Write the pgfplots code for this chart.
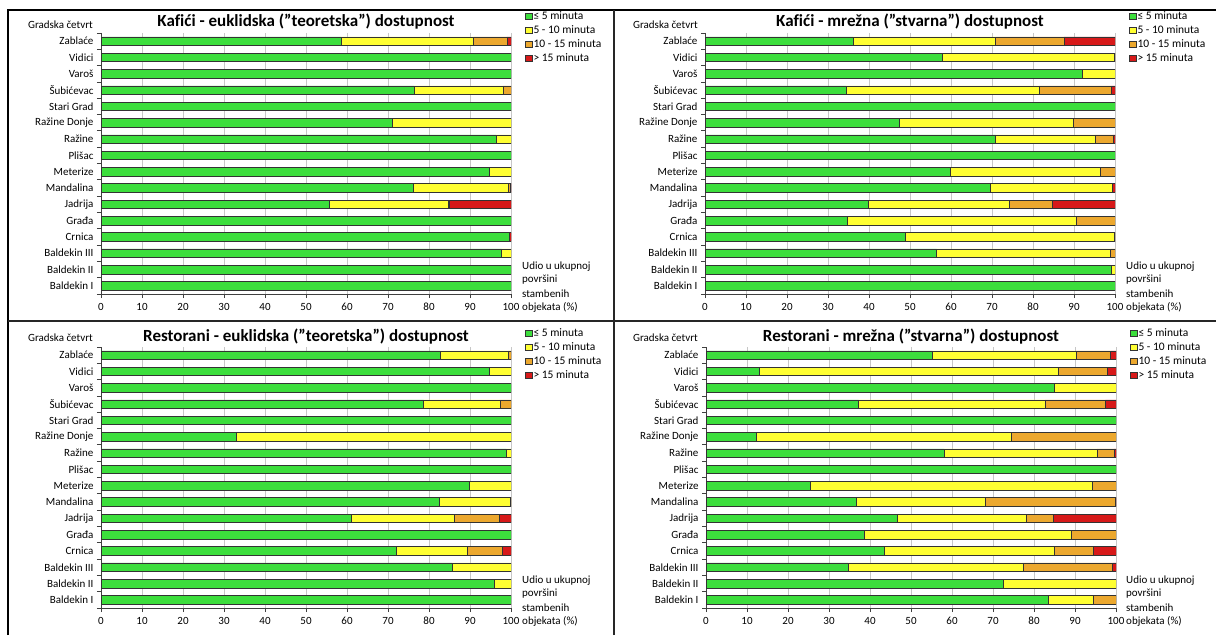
\documentclass[border=0pt]{standalone}
\usepackage{pgfplots}
\usepackage{pgfplotstable}
\pgfplotsset{compat=1.18}
\usepackage{fontspec}
\setmainfont[Ligatures=NoCommon]{Carlito}
\newcommand{\qq}{\char34\relax}
\definecolor{cg}{RGB}{60,222,60}
\definecolor{cy}{RGB}{255,255,50}
\definecolor{co}{RGB}{236,168,46}
\definecolor{cr}{RGB}{215,25,25}

\pgfplotstableread{
i g y o r
0 58.6 32.3 8.1 1.0
1 100 0 0 0
2 100 0 0 0
3 76.4 21.7 1.9 0
4 100 0 0 0
5 71.1 28.9 0 0
6 96.3 3.7 0 0
7 100 0 0 0
8 94.7 5.3 0 0
9 76.2 23.2 0.3 0.3
10 55.7 29.0 0.2 15.1
11 100 0 0 0
12 99.5 0 0 0.5
13 97.7 2.3 0 0
14 100 0 0 0
15 100 0 0 0
}\KE

\pgfplotstableread{
i g y o r
0 36.1 34.8 16.7 12.4
1 57.8 42.0 0.2 0
2 92.1 7.9 0 0
3 34.4 47.1 17.5 1.0
4 100 0 0 0
5 47.3 42.6 10.1 0
6 70.9 24.2 4.4 0.5
7 100 0 0 0
8 59.9 36.4 3.7 0
9 69.6 29.7 0 0.7
10 39.7 34.5 10.4 15.4
11 34.7 55.9 9.4 0
12 48.9 50.8 0.3 0
13 56.5 42.4 1.1 0
14 99.1 0.9 0 0
15 100 0 0 0
}\KM

\pgfplotstableread{
i g y o r
0 82.8 16.5 0.7 0
1 94.7 5.3 0 0
2 100 0 0 0
3 78.7 18.6 2.7 0
4 100 0 0 0
5 33.0 67.0 0 0
6 98.9 1.1 0 0
7 100 0 0 0
8 89.9 10.1 0 0
9 82.6 17.1 0.3 0
10 61.0 25.1 11.1 2.8
11 100 0 0 0
12 72.1 17.3 8.4 2.2
13 85.7 14.3 0 0
14 96.0 4.0 0 0
15 100 0 0 0
}\RE

\pgfplotstableread{
i g y o r
0 55.3 35.0 8.4 1.3
1 13.0 72.8 12.1 2.1
2 85.0 15.0 0 0
3 37.2 45.5 14.7 2.6
4 100 0 0 0
5 12.3 62.1 25.6 0
6 58.1 37.3 4.1 0.5
7 100 0 0 0
8 25.5 68.8 5.7 0
9 36.6 31.4 31.7 0.3
10 46.7 31.5 6.4 15.4
11 38.6 50.5 10.9 0
12 43.5 41.5 9.5 5.5
13 34.6 42.7 21.9 0.8
14 72.4 27.6 0 0
15 83.4 11.1 5.5 0
}\RM

\pgfplotsset{
  panel/.style={
    xbar stacked, scale only axis, width=410pt, height=261pt,
    anchor=south west,
    xmin=0, xmax=100, ymin=-0.5, ymax=15.5, y dir=reverse,
    bar width=0.52,
    xtick={0,10,...,100}, ytick={0,...,15},
    yticklabels={Zablaće,Vidici,Varoš,Šubićevac,Stari Grad,Ražine Donje,Ražine,Plišac,Meterize,Mandalina,Jadrija,Građa,Crnica,Baldekin III,Baldekin II,Baldekin I},
    minor ytick={-0.5,0.5,...,15.5},
    xmajorgrids, major grid style={black!22, line width=0.6pt},
    axis x line*=bottom, axis y line*=left,
    axis line style={black!75, line width=0.8pt},
    tick align=outside, major tick length=4pt, minor tick length=4pt,
    tick style={black!75, line width=0.8pt},
    major y tick style={draw=none},
    tick label style={font=\fontsize{11}{13}\selectfont},
    xticklabel style={yshift=-1.5pt},
    /pgf/number format/assume math mode=true,
    title style={font=\bfseries\fontsize{17}{19}\selectfont, at={(0.5,1)}, anchor=center},
    every axis plot/.append style={draw=black!80, line width=0.5pt},
    legend image code/.code={\draw[#1, draw=black!80, line width=0.5pt] (0pt,-3.4pt) rectangle (6.8pt,3.4pt);},
    legend style={at={(1,1)}, anchor=north west, xshift=14pt,
      draw=none, fill=none, inner sep=0pt, row sep=0pt,
      font=\fontsize{11.5}{13}\selectfont,
      nodes={inner sep=1pt, text height=9pt, text depth=3pt}},
    legend cell align=left,
  }
}

\begin{document}
\begin{tikzpicture}
\useasboundingbox (0,0) rectangle (1216pt,635pt);
\fill[white] (0,0) rectangle (1216pt,635pt);

% Panel 1
\begin{axis}[panel, at={(101pt,341pt)}, title={Kafići - euklidska (\qq teoretska\qq) dostupnost},
  title style={yshift=5pt}, legend style={yshift=24pt}]
\addplot[fill=cg] table[x=g,y=i]{\KE};
\addplot[fill=cy] table[x=y,y=i]{\KE};
\addplot[fill=co] table[x=o,y=i]{\KE};
\addplot[fill=cr] table[x=r,y=i]{\KE};
\legend{≤ 5 minuta,5 - 10 minuta,10 - 15 minuta,> 15 minuta}
\end{axis}

% Panel 2
\begin{axis}[panel, at={(705pt,341pt)}, title={Kafići - mrežna (\qq stvarna\qq) dostupnost},
  title style={yshift=5pt}, legend style={yshift=24pt}]
\addplot[fill=cg] table[x=g,y=i]{\KM};
\addplot[fill=cy] table[x=y,y=i]{\KM};
\addplot[fill=co] table[x=o,y=i]{\KM};
\addplot[fill=cr] table[x=r,y=i]{\KM};
\legend{≤ 5 minuta,5 - 10 minuta,10 - 15 minuta,> 15 minuta}
\end{axis}

% Panel 3
\begin{axis}[panel, at={(101pt,27pt)}, title={Restorani - euklidska (\qq teoretska\qq) dostupnost},
  title style={yshift=4pt}, legend style={yshift=21pt}]
\addplot[fill=cg] table[x=g,y=i]{\RE};
\addplot[fill=cy] table[x=y,y=i]{\RE};
\addplot[fill=co] table[x=o,y=i]{\RE};
\addplot[fill=cr] table[x=r,y=i]{\RE};
\legend{≤ 5 minuta,5 - 10 minuta,10 - 15 minuta,> 15 minuta}
\end{axis}

% Panel 4
\begin{axis}[panel, at={(706pt,27pt)}, title={Restorani - mrežna (\qq stvarna\qq) dostupnost},
  title style={yshift=4pt}, legend style={yshift=21pt}]
\addplot[fill=cg] table[x=g,y=i]{\RM};
\addplot[fill=cy] table[x=y,y=i]{\RM};
\addplot[fill=co] table[x=o,y=i]{\RM};
\addplot[fill=cr] table[x=r,y=i]{\RM};
\legend{≤ 5 minuta,5 - 10 minuta,10 - 15 minuta,> 15 minuta}
\end{axis}

% Corner labels
\begin{scope}[every node/.style={font=\fontsize{11}{13}\selectfont, inner sep=0pt}]
\node[anchor=east] at (93pt,610pt) {Gradska četvrt};
\node[anchor=east] at (698pt,610pt) {Gradska četvrt};
\node[anchor=east] at (93pt,297pt) {Gradska četvrt};
\node[anchor=east] at (698pt,297pt) {Gradska četvrt};
\foreach \xx/\yy in {522/368.5, 1126/368.5, 522/54.5, 1126/54.5} {
  \node[anchor=west] at (\xx pt,\yy pt) {Udio u ukupnoj};
  \node[anchor=west] at (\xx pt,\yy pt-13.5pt) {površini};
  \node[anchor=west] at (\xx pt,\yy pt-27pt) {stambenih};
  \node[anchor=west] at (\xx pt,\yy pt-40.5pt) {objekata (\%)};
}
\end{scope}

% Frame
\draw[black, line width=2pt] (7.5pt,0pt) -- (7.5pt,625pt) -- (1216pt,625pt);
\draw[black!85, line width=1.5pt] (614pt,0pt) -- (614pt,625pt);
\draw[black!85, line width=1.5pt] (7.5pt,314pt) -- (1216pt,314pt);
\end{tikzpicture}
\end{document}
